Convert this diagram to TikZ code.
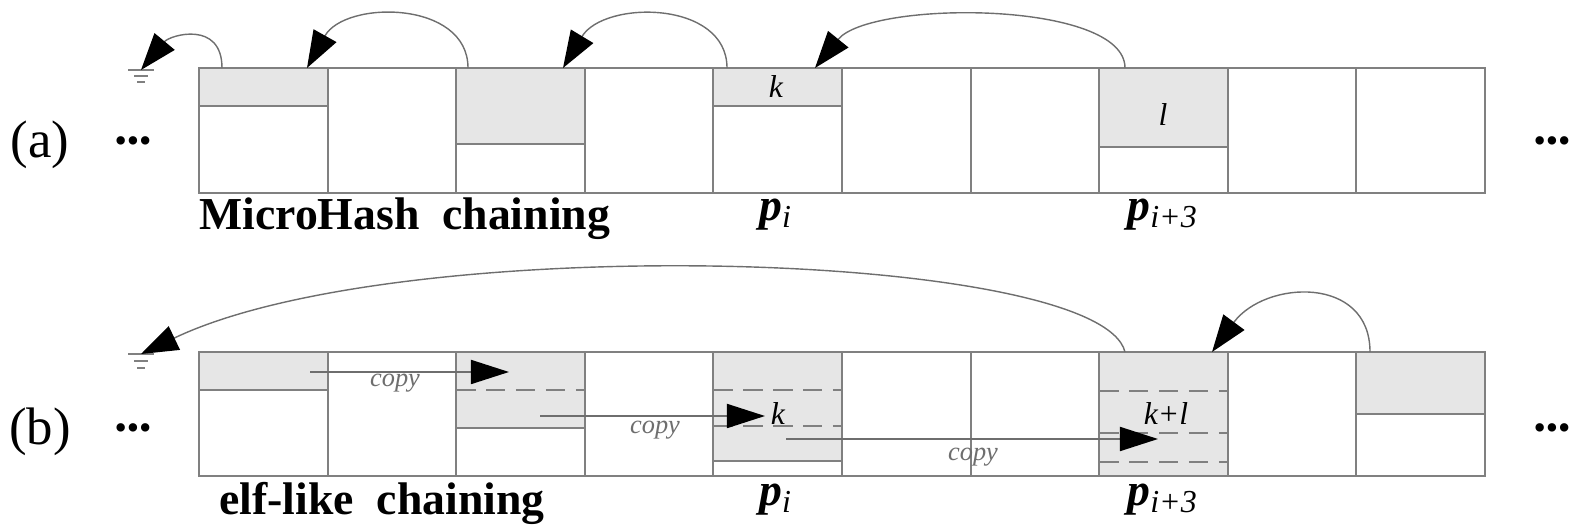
\documentclass[tikz,border=0pt]{standalone}
\usepackage{fontspec}
\setmainfont{Liberation Serif}
\usetikzlibrary{arrows.meta}
\definecolor{cellline}{RGB}{128,128,128}
\definecolor{cellfill}{RGB}{230,230,230}
\definecolor{linkline}{RGB}{110,110,110}

\begin{document}
\begin{tikzpicture}[x=0.01cm, y=-0.01cm,
    cellbox/.style={draw=cellline, line width=0.6pt},
    used/.style={fill=cellfill, draw=cellline, line width=0.6pt},
    sep/.style={draw=cellline, line width=0.6pt, dash pattern=on 5.5pt off 3pt},
    link/.style={-{Triangle[length=3.7mm, width=2.6mm, color=black]}, draw=linkline, line width=0.4pt},
    copyarrow/.style={-{Triangle[length=3.8mm, width=2.4mm, color=black]}, draw=linkline, line width=0.5pt},
    groundline/.style={draw=cellline, line width=0.5pt},
    caption/.style={font=\fontsize{13}{15}\selectfont\bfseries, anchor=west},
    rowlabel/.style={font=\fontsize{15}{17}\selectfont},
    dots/.style={font=\fontsize{10}{10}\selectfont},
    pagelabel/.style={font=\fontsize{13}{15}\selectfont},
    content/.style={font=\fontsize{9}{11}\selectfont\itshape},
    copylabel/.style={font=\fontsize{7.5}{9}\selectfont\itshape, text=linkline}
]
\useasboundingbox (0,0) rectangle (1570,528);

% (a) MicroHash chaining
\filldraw[used] (199,68) rectangle (327.6,106);
\filldraw[used] (456.2,68) rectangle (584.8,144);
\filldraw[used] (713.4,68) rectangle (842,106);
\filldraw[used] (1099.2,68) rectangle (1227.8,147);
\draw[cellbox] (199,68) rectangle (1485,193);
\foreach \x in {327.6,456.2,584.8,713.4,842,970.6,1099.2,1227.8,1356.4}
  \draw[cellbox] (\x,68) -- (\x,193);

\node[rowlabel] (laba) at (40,145) {(a)};
\node[dots] (dotsal) at (133,145) {\textbullet\textbullet\textbullet};
\node[dots] (dotsar) at (1552,145) {\textbullet\textbullet\textbullet};
\node[content] (ka) at (776,87) {k};
\node[content] (la) at (1163,115) {l};
\node[caption] (capa) at (187,219) {MicroHash\ \ chaining};
\node[pagelabel] (pia) at (776,215) {{\bfseries\itshape p}\textsubscript{\itshape i}};
\node[pagelabel] (pi3a) at (1163,215) {{\bfseries\itshape p}\textsubscript{\itshape i+3}};

% ground
\coordinate (gnda) at (141,70);
\draw[groundline] (128,70) -- (154,70) (134,76) -- (148,76) (137,82) -- (145,82);

\coordinate (a0s) at (222,68);
\coordinate (a2s) at (468,68);
\coordinate (a2e) at (307,68);
\coordinate (a4s) at (727,68);
\coordinate (a4e) at (563,68);
\coordinate (a7s) at (1125,68);
\coordinate (a7e) at (815,68);
\draw[link] (a0s) .. controls (222,20) and (170,35) .. (gnda);
\draw[link] (a2s) .. controls (468,0) and (345,0) .. (a2e);
\draw[link] (a4s) .. controls (727,0) and (604,0) .. (a4e);
\draw[link] (a7s) .. controls (1125,0) and (870,0) .. (a7e);

% (b) elf-like chaining
\filldraw[used] (199,352) rectangle (327.6,390);
\filldraw[used] (456.2,352) rectangle (584.8,428);
\filldraw[used] (713.4,352) rectangle (842,461);
\fill[cellfill] (1099.2,352) rectangle (1227.8,476);
\filldraw[used] (1356.4,352) rectangle (1485,414);
\draw[sep] (456.2,390) -- (584.8,390);
\draw[sep] (713.4,390) -- (842,390) (713.4,426) -- (842,426);
\draw[sep] (1099.2,391) -- (1227.8,391) (1099.2,433) -- (1227.8,433) (1099.2,462) -- (1227.8,462);
\draw[cellbox] (199,352) rectangle (1485,476);
\foreach \x in {327.6,456.2,584.8,713.4,842,970.6,1099.2,1227.8,1356.4}
  \draw[cellbox] (\x,352) -- (\x,476);

\node[rowlabel] (labb) at (40,432) {(b)};
\node[dots] (dotsbl) at (133,432) {\textbullet\textbullet\textbullet};
\node[dots] (dotsbr) at (1552,432) {\textbullet\textbullet\textbullet};
\node[content] (kb) at (778,414) {k};
\node[content] (klb) at (1166,414) {k+l};
\node[caption] (capb) at (207,503) {elf-like\ \ chaining};
\node[pagelabel] (pib) at (776,500) {{\bfseries\itshape p}\textsubscript{\itshape i}};
\node[pagelabel] (pi3b) at (1163,500) {{\bfseries\itshape p}\textsubscript{\itshape i+3}};

\coordinate (gndb) at (141,354);
\draw[groundline] (128,354) -- (154,354) (134,361) -- (148,361) (137,368) -- (145,368);

\coordinate (b7s) at (1125,352);
\coordinate (b9s) at (1370,352);
\coordinate (b7e) at (1212,352);
\draw[link] (b7s) .. controls (1100,250) and (400,230) .. (gndb);
\draw[link] (b9s) .. controls (1370,275) and (1265,280) .. (b7e);

% copies
\coordinate (c1s) at (310,372);
\coordinate (c1e) at (509,372);
\coordinate (c2s) at (540,416);
\coordinate (c2e) at (765,416);
\coordinate (c3s) at (786,439);
\coordinate (c3e) at (1158,439);
\draw[copyarrow] (c1s) -- (c1e);
\draw[copyarrow] (c2s) -- (c2e);
\draw[copyarrow] (c3s) -- (c3e);
\node[copylabel] (cp1) at (395,383) {copy};
\node[copylabel] (cp2) at (655,430) {copy};
\node[copylabel] (cp3) at (973,457) {copy};

\end{tikzpicture}
\end{document}
